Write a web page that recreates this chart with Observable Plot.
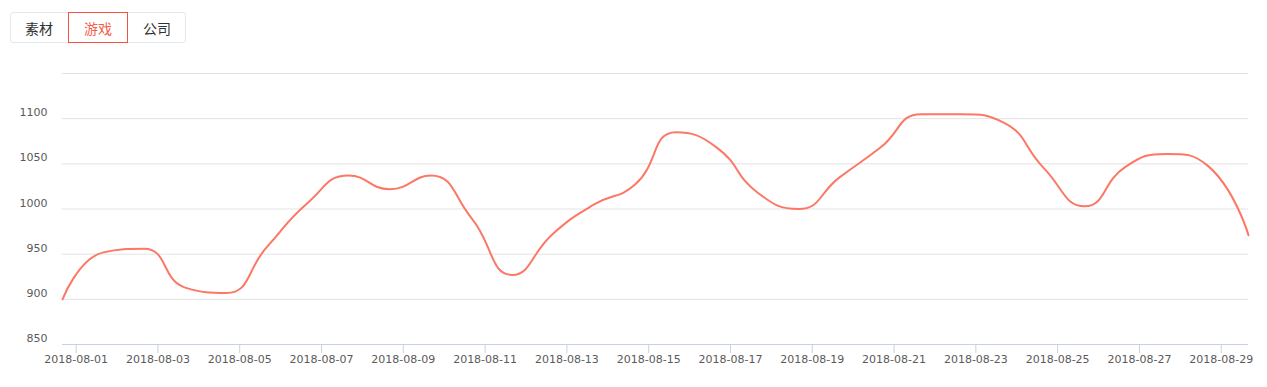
<!DOCTYPE html>
<html>
<head>
<meta charset="utf-8">
<script src="https://cdn.jsdelivr.net/npm/d3@7"></script>
<script src="https://cdn.jsdelivr.net/npm/@observablehq/plot@0.6"></script>
<style>
  body { margin: 0; background: #fff; }
  #wrap { position: relative; width: 1267px; height: 387px; overflow: hidden; }
  #chart { position: absolute; left: 0; top: 0; }
  #tabs { position: absolute; left: 10px; top: 12px; width: 176px; height: 31px; box-sizing: border-box;
          border: 1px solid #e4e7ed; border-radius: 3px; background: #fff; }
  .tab { position: absolute; top: 12px; height: 31px; box-sizing: border-box; display: flex; align-items: center;
         justify-content: center; font-family: "Noto Sans CJK SC", sans-serif; font-size: 14px; color: #303133; }
  .tab.active { border: 1px solid #f0533f; color: #f5604d; }
</style>
</head>
<body>
<div id="wrap">
  <div id="chart"></div>
  <div id="tabs"></div>
</div>
<script>
// ---- data ----
const tabs = ["素材", "游戏", "公司"];
const activeTab = 1;
const dates = [
  "2018-08-01","2018-08-02","2018-08-03","2018-08-04","2018-08-05","2018-08-06","2018-08-07","2018-08-08",
  "2018-08-09","2018-08-10","2018-08-11","2018-08-12","2018-08-13","2018-08-14","2018-08-15","2018-08-16",
  "2018-08-17","2018-08-18","2018-08-19","2018-08-20","2018-08-21","2018-08-22","2018-08-23","2018-08-24",
  "2018-08-25","2018-08-26","2018-08-27","2018-08-28","2018-08-29","2018-08-30"
];
const values = [
  900, 952, 956, 913, 907, 958, 1007, 1037, 1022, 1037,
  990, 927, 973, 1005, 1027, 1085, 1068, 1018, 1000, 1035,
  1068, 1105, 1105, 1096, 1045, 1003, 1047, 1061, 1048, 971
];
const xTickLabels = [
  "2018-08-01","2018-08-03","2018-08-05","2018-08-07","2018-08-09","2018-08-11","2018-08-13","2018-08-15",
  "2018-08-17","2018-08-19","2018-08-21","2018-08-23","2018-08-25","2018-08-27","2018-08-29"
];
const yTickLabels = [850, 900, 950, 1000, 1050, 1100];
const yGridLines = [900, 950, 1000, 1050, 1100, 1150];
const yDomain = [850, 1150];
const tickHourOffset = 8; // axis ticks fall at local midnight (UTC-8) while data sit at UTC midnight

// ---- tabs ----
const tabWidths = [58, 60, 58];
let left = 10;
const tabsHost = document.getElementById("wrap");
tabs.forEach((t, i) => {
  const el = document.createElement("div");
  el.className = "tab" + (i === activeTab ? " active" : "");
  el.style.left = left + "px";
  el.style.width = tabWidths[i] + "px";
  el.textContent = t;
  tabsHost.appendChild(el);
  left += tabWidths[i];
});

// ---- ECharts-like smooth curve (smooth = 0.5, clamped control points) ----
function echartsSmooth(context) {
  let pts;
  const smooth = 0.5;
  return {
    areaStart() {}, areaEnd() {},
    lineStart() { pts = []; },
    point(x, y) { pts.push([+x, +y]); },
    lineEnd() {
      const n = pts.length;
      if (!n) return;
      let prevX, prevY, cpx0, cpy0, cpx1, cpy1;
      for (let i = 0; i < n; i++) {
        const [x, y] = pts[i];
        if (i === 0) {
          context.moveTo(x, y);
          cpx0 = x; cpy0 = y;
        } else {
          let nextCpx0, nextCpy0;
          if (i === n - 1) {
            cpx1 = x; cpy1 = y;
          } else {
            const [nextX, nextY] = pts[i + 1];
            let vx = nextX - prevX, vy = nextY - prevY;
            const dx0 = x - prevX, dx1 = nextX - x, dy0 = y - prevY, dy1 = nextY - y;
            const lenPrev = Math.sqrt(dx0 * dx0 + dy0 * dy0);
            const lenNext = Math.sqrt(dx1 * dx1 + dy1 * dy1);
            const ratio = lenNext / (lenNext + lenPrev);
            nextCpx0 = x + vx * smooth * ratio;
            nextCpy0 = y + vy * smooth * ratio;
            nextCpx0 = Math.max(Math.min(nextCpx0, Math.max(nextX, x)), Math.min(nextX, x));
            nextCpy0 = Math.max(Math.min(nextCpy0, Math.max(nextY, y)), Math.min(nextY, y));
            vx = nextCpx0 - x; vy = nextCpy0 - y;
            cpx1 = x - vx * lenPrev / lenNext;
            cpy1 = y - vy * lenPrev / lenNext;
            cpx1 = Math.max(Math.min(cpx1, Math.max(prevX, x)), Math.min(prevX, x));
            cpy1 = Math.max(Math.min(cpy1, Math.max(prevY, y)), Math.min(prevY, y));
            vx = x - cpx1; vy = y - cpy1;
            nextCpx0 = x + vx * lenNext / lenPrev;
            nextCpy0 = y + vy * lenNext / lenPrev;
          }
          context.bezierCurveTo(cpx0, cpy0, cpx1, cpy1, x, y);
          cpx0 = nextCpx0; cpy0 = nextCpy0;
        }
        prevX = x; prevY = y;
      }
    }
  };
}

// ---- chart ----
const series = dates.map((d, i) => ({date: new Date(d + "T00:00:00Z"), value: values[i]}));
const xTicks = xTickLabels.map(l => new Date(l + "T0" + tickHourOffset + ":00:00Z"));

const chart = Plot.plot({
  width: 1267,
  height: 387,
  marginLeft: 62,
  marginRight: 19,
  marginTop: 73,
  marginBottom: 43,
  style: {fontFamily: '"DejaVu Sans", sans-serif', fontSize: "11px", color: "#5a5a5a", background: "#fff"},
  x: {type: "utc", domain: [series[0].date, series[series.length - 1].date], label: null},
  y: {domain: yDomain, label: null},
  marks: [
    Plot.ruleY(yGridLines, {stroke: "#e3e3e3", strokeWidth: 1}),
    Plot.ruleY([yDomain[0]], {stroke: "#c6d1e4", strokeWidth: 1}),
    Plot.axisX({ticks: xTicks, tickFormat: (d, i) => xTickLabels[i], tickSize: 9, tickPadding: 2, stroke: "#c6d1e4", label: null}),
    Plot.axisY({ticks: yTickLabels, tickFormat: d => String(d), tickSize: 0, tickPadding: 15, dy: -6, label: null}),
    Plot.line(series, {x: "date", y: "value", stroke: "#fc7765", strokeWidth: 2, curve: echartsSmooth})
  ]
});
document.getElementById("chart").appendChild(chart);
</script>
</body>
</html>
